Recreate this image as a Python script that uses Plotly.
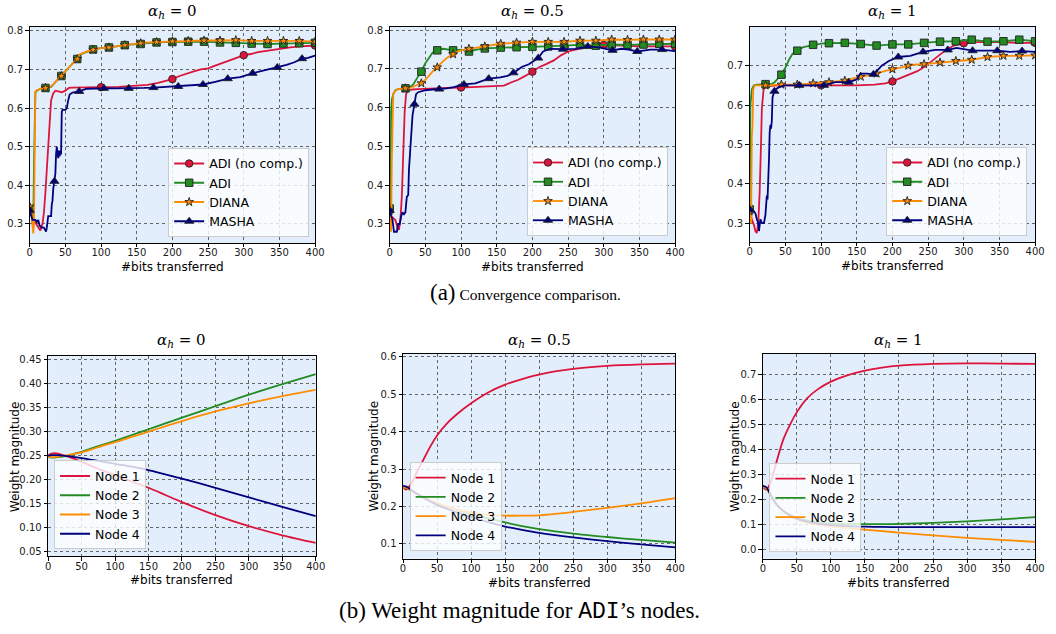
import plotly.graph_objects as go

W, H = 1056, 634

# ---------------- DATA: convergence comparison (top row) ----------------
titles = ["<i>α</i><sub><i>h</i></sub> = 0", "<i>α</i><sub><i>h</i></sub> = 0.5", "<i>α</i><sub><i>h</i></sub> = 1"]
method_names = ["ADI (no comp.)", "ADI", "DIANA", "MASHA"]

mk_adi = [0, 22.2, 44.4, 66.7, 88.9, 111.1, 133.3, 155.6, 177.8, 200, 222.2, 244.4, 266.7, 288.9, 311.1, 333.3, 355.6, 377.8, 400]
mk_nocomp = [0, 100, 200, 300, 400]
mk_masha = [0, 34.7, 69.4, 104.1, 138.8, 173.5, 208.2, 242.9, 277.6, 312.3, 347, 381.7]

# alpha_h = 0
a0_nocomp_x = [0, 3, 6, 9, 12, 15, 18, 20, 22, 24, 26, 28, 30, 33, 36, 40, 45, 50, 55, 60, 80, 100, 125, 150, 165, 180, 190, 200, 210, 220, 230, 240, 250, 260, 270, 280, 290, 300, 310, 320, 335, 350, 365, 380, 390, 400]
a0_nocomp_y = [0.335, 0.32, 0.31, 0.30, 0.29, 0.283, 0.30, 0.33, 0.38, 0.44, 0.50, 0.57, 0.62, 0.638, 0.645, 0.643, 0.641, 0.645, 0.652, 0.653, 0.653, 0.654, 0.655, 0.657, 0.66, 0.665, 0.669, 0.675, 0.683, 0.69, 0.695, 0.70, 0.703, 0.71, 0.716, 0.722, 0.73, 0.737, 0.74, 0.745, 0.749, 0.754, 0.757, 0.76, 0.761, 0.762]
a0_nocomp_my = [0.335, 0.654, 0.675, 0.737, 0.762]

a0_adi_x = [0, 2, 4, 5, 6, 7, 8, 10, 15, 22, 30, 35, 40, 44, 50, 55, 60, 66, 70, 75, 80, 89, 100, 111, 122, 133, 144, 155, 166, 178, 190, 200, 222, 244, 266, 289, 311, 333, 355, 378, 400]
a0_adi_y = [0.335, 0.33, 0.30, 0.29, 0.45, 0.60, 0.64, 0.645, 0.65, 0.652, 0.655, 0.665, 0.675, 0.683, 0.695, 0.705, 0.715, 0.727, 0.738, 0.742, 0.746, 0.752, 0.755, 0.757, 0.76, 0.763, 0.765, 0.766, 0.768, 0.77, 0.771, 0.771, 0.772, 0.772, 0.77, 0.769, 0.767, 0.766, 0.767, 0.768, 0.769]
a0_adi_my = [0.335, 0.652, 0.683, 0.727, 0.752, 0.757, 0.763, 0.766, 0.77, 0.771, 0.772, 0.772, 0.770, 0.769, 0.767, 0.766, 0.767, 0.768, 0.769]

a0_diana_x = [0, 2, 3, 4, 5, 6, 7, 7.5, 8, 10, 15, 22, 30, 35, 40, 44, 50, 55, 60, 66, 70, 75, 80, 89, 100, 111, 122, 133, 144, 155, 166, 178, 190, 200, 222, 244, 266, 289, 311, 333, 355, 378, 400]
a0_diana_y = [0.345, 0.345, 0.32, 0.28, 0.275, 0.30, 0.58, 0.60, 0.643, 0.646, 0.65, 0.652, 0.656, 0.665, 0.675, 0.683, 0.696, 0.705, 0.715, 0.727, 0.739, 0.743, 0.747, 0.751, 0.755, 0.757, 0.76, 0.763, 0.766, 0.768, 0.77, 0.771, 0.772, 0.773, 0.774, 0.775, 0.775, 0.776, 0.774, 0.774, 0.774, 0.774, 0.772]
a0_diana_my = [0.345, 0.652, 0.683, 0.727, 0.751, 0.757, 0.763, 0.768, 0.771, 0.773, 0.774, 0.775, 0.775, 0.776, 0.774, 0.774, 0.774, 0.774, 0.772]

a0_masha_x = [0, 2, 4, 8, 10, 12, 14, 17, 20, 22, 23, 24, 26, 28, 30, 31, 32, 33, 34.7, 36, 37, 38, 39, 40, 41, 42, 43, 44, 45, 46, 50, 52, 54, 56, 60, 65, 69.4, 80, 90, 104, 120, 139, 160, 174, 190, 208, 225, 243, 260, 278, 295, 312, 330, 347, 360, 370, 382, 390, 400]
a0_masha_y = [0.335, 0.32, 0.31, 0.31, 0.305, 0.31, 0.295, 0.29, 0.29, 0.283, 0.28, 0.29, 0.32, 0.32, 0.32, 0.35, 0.36, 0.39, 0.41, 0.43, 0.48, 0.50, 0.485, 0.47, 0.49, 0.475, 0.49, 0.48, 0.59, 0.595, 0.595, 0.60, 0.62, 0.635, 0.64, 0.641, 0.643, 0.65, 0.651, 0.651, 0.651, 0.651, 0.652, 0.653, 0.655, 0.656, 0.658, 0.661, 0.668, 0.676, 0.68, 0.69, 0.698, 0.705, 0.712, 0.718, 0.728, 0.73, 0.736]
a0_masha_my = [0.335, 0.41, 0.643, 0.651, 0.651, 0.653, 0.656, 0.661, 0.676, 0.69, 0.705, 0.728]

# alpha_h = 0.5
a05_nocomp_x = [0, 2, 5, 8, 11, 13, 15, 17, 19, 21, 23, 25, 28, 32, 40, 60, 80, 100, 130, 160, 170, 180, 190, 200, 210, 220, 230, 240, 250, 260, 270, 280, 300, 320, 350, 380, 400]
a05_nocomp_y = [0.34, 0.32, 0.315, 0.31, 0.29, 0.285, 0.31, 0.37, 0.48, 0.59, 0.635, 0.642, 0.645, 0.647, 0.648, 0.65, 0.651, 0.652, 0.655, 0.657, 0.665, 0.672, 0.682, 0.693, 0.705, 0.713, 0.722, 0.735, 0.745, 0.75, 0.754, 0.757, 0.762, 0.76, 0.758, 0.758, 0.758]
a05_nocomp_my = [0.34, 0.652, 0.693, 0.762, 0.758]

a05_adi_x = [0, 1, 2, 3, 5, 8, 12, 22, 28, 33, 38, 44, 50, 55, 60, 66, 75, 89, 100, 111, 122, 133, 155, 178, 200, 222, 244, 266, 289, 311, 333, 355, 378, 400]
a05_adi_y = [0.34, 0.30, 0.59, 0.62, 0.635, 0.645, 0.648, 0.65, 0.652, 0.66, 0.675, 0.693, 0.715, 0.73, 0.742, 0.748, 0.752, 0.748, 0.75, 0.745, 0.75, 0.753, 0.755, 0.756, 0.757, 0.758, 0.76, 0.762, 0.76, 0.763, 0.762, 0.763, 0.765, 0.765]
a05_adi_my = [0.34, 0.65, 0.693, 0.748, 0.748, 0.745, 0.753, 0.755, 0.756, 0.757, 0.758, 0.76, 0.762, 0.76, 0.763, 0.762, 0.763, 0.765, 0.765]

a05_diana_x = [0, 1, 2, 3, 4, 5, 8, 12, 22, 30, 35, 44, 50, 55, 60, 66, 70, 75, 80, 89, 95, 100, 111, 122, 133, 144, 155, 178, 200, 222, 244, 266, 289, 311, 333, 355, 378, 400]
a05_diana_y = [0.335, 0.30, 0.28, 0.46, 0.60, 0.635, 0.645, 0.648, 0.65, 0.652, 0.656, 0.663, 0.672, 0.683, 0.693, 0.704, 0.712, 0.72, 0.728, 0.738, 0.745, 0.748, 0.752, 0.755, 0.758, 0.762, 0.765, 0.768, 0.77, 0.77, 0.77, 0.773, 0.773, 0.776, 0.775, 0.776, 0.776, 0.776]
a05_diana_my = [0.335, 0.65, 0.663, 0.704, 0.738, 0.752, 0.758, 0.765, 0.768, 0.77, 0.77, 0.77, 0.773, 0.773, 0.776, 0.775, 0.776, 0.776, 0.776]

a05_masha_x = [0, 2, 4, 6, 8, 10, 12, 14, 16, 18, 20, 22, 24, 26, 27, 28, 30, 32, 34.7, 37, 40, 50, 60, 69.4, 80, 90, 104, 120, 139, 155, 165, 174, 185, 195, 208, 215, 225, 243, 260, 278, 295, 312, 325, 335, 347, 365, 382, 400]
a05_masha_y = [0.335, 0.32, 0.31, 0.28, 0.28, 0.28, 0.30, 0.30, 0.32, 0.33, 0.325, 0.33, 0.37, 0.375, 0.44, 0.47, 0.53, 0.58, 0.609, 0.635, 0.64, 0.645, 0.647, 0.648, 0.65, 0.653, 0.66, 0.663, 0.675, 0.678, 0.682, 0.69, 0.705, 0.712, 0.728, 0.745, 0.752, 0.751, 0.752, 0.758, 0.755, 0.748, 0.752, 0.75, 0.745, 0.75, 0.75, 0.746]
a05_masha_my = [0.335, 0.609, 0.648, 0.66, 0.675, 0.69, 0.728, 0.751, 0.758, 0.748, 0.745, 0.75]

# alpha_h = 1
a1_nocomp_x = [0, 3, 6, 8, 10, 12, 14, 15, 16, 17, 18, 19.5, 22, 25, 40, 60, 100, 150, 175, 190, 200, 210, 220, 235, 245, 255, 265, 275, 285, 300, 320, 350, 380, 400]
a1_nocomp_y = [0.335, 0.31, 0.295, 0.28, 0.275, 0.30, 0.38, 0.43, 0.51, 0.59, 0.62, 0.64, 0.645, 0.648, 0.65, 0.65, 0.65, 0.65, 0.652, 0.655, 0.66, 0.668, 0.675, 0.686, 0.697, 0.712, 0.725, 0.74, 0.75, 0.757, 0.76, 0.76, 0.758, 0.758]
a1_nocomp_my = [0.335, 0.65, 0.66, 0.757, 0.758]

a1_adi_x = [0, 0.5, 1, 3, 6, 10, 22, 30, 35, 40, 44, 50, 55, 60, 66, 75, 89, 100, 111, 133, 155, 178, 200, 222, 244, 266, 289, 311, 333, 355, 378, 400]
a1_adi_y = [0.335, 0.57, 0.60, 0.64, 0.65, 0.652, 0.653, 0.653, 0.658, 0.668, 0.677, 0.695, 0.715, 0.73, 0.738, 0.747, 0.753, 0.756, 0.757, 0.758, 0.755, 0.751, 0.754, 0.754, 0.758, 0.761, 0.762, 0.766, 0.761, 0.762, 0.766, 0.762]
a1_adi_my = [0.335, 0.653, 0.677, 0.738, 0.753, 0.757, 0.758, 0.755, 0.751, 0.754, 0.754, 0.758, 0.761, 0.762, 0.766, 0.761, 0.762, 0.766, 0.762]

a1_diana_x = [0, 2, 3, 4, 5, 7, 22, 44, 66, 89, 100, 111, 122, 133, 145, 155, 165, 178, 190, 200, 210, 222, 233, 244, 266, 289, 311, 333, 355, 378, 400]
a1_diana_y = [0.33, 0.30, 0.52, 0.55, 0.64, 0.65, 0.65, 0.652, 0.652, 0.655, 0.655, 0.658, 0.66, 0.662, 0.668, 0.672, 0.675, 0.68, 0.687, 0.691, 0.695, 0.70, 0.703, 0.704, 0.708, 0.712, 0.715, 0.722, 0.725, 0.725, 0.726]
a1_diana_my = [0.33, 0.65, 0.652, 0.652, 0.655, 0.658, 0.662, 0.672, 0.68, 0.691, 0.70, 0.704, 0.708, 0.712, 0.715, 0.722, 0.725, 0.725, 0.726]

a1_masha_x = [0, 3, 6, 8, 10, 12, 13, 14, 15, 17, 20, 22, 23, 24, 25, 26, 27, 28, 29, 30, 31, 32, 34.7, 37, 40, 50, 69.4, 90, 104, 120, 139, 150, 155, 165, 174, 185, 195, 208, 225, 243, 260, 278, 290, 312, 330, 347, 365, 382, 400]
a1_masha_y = [0.335, 0.33, 0.33, 0.325, 0.31, 0.30, 0.28, 0.30, 0.31, 0.30, 0.30, 0.32, 0.36, 0.37, 0.36, 0.40, 0.46, 0.53, 0.55, 0.54, 0.56, 0.62, 0.635, 0.64, 0.645, 0.65, 0.65, 0.65, 0.65, 0.658, 0.658, 0.665, 0.68, 0.68, 0.678, 0.70, 0.712, 0.722, 0.725, 0.735, 0.74, 0.74, 0.745, 0.738, 0.738, 0.738, 0.735, 0.737, 0.735]
a1_masha_my = [0.335, 0.635, 0.65, 0.65, 0.658, 0.678, 0.722, 0.735, 0.74, 0.738, 0.738, 0.737]

# ---------------- DATA: weight magnitude (bottom row) ----------------
node_names = ["Node 1", "Node 2", "Node 3", "Node 4"]
bits_w = [0, 5, 10, 15, 20, 30, 40, 50, 65, 80, 100, 125, 150, 175, 200, 250, 300, 350, 400]

b0_node1 = [0.25, 0.254, 0.255, 0.254, 0.252, 0.248, 0.243, 0.237, 0.228, 0.22, 0.209, 0.196, 0.183, 0.168, 0.153, 0.126, 0.103, 0.084, 0.068]
b0_node2 = [0.247, 0.246, 0.246, 0.247, 0.248, 0.25, 0.254, 0.258, 0.265, 0.272, 0.281, 0.293, 0.305, 0.317, 0.329, 0.353, 0.377, 0.399, 0.42]
b0_node3 = [0.247, 0.247, 0.247, 0.248, 0.249, 0.251, 0.254, 0.257, 0.263, 0.27, 0.278, 0.289, 0.30, 0.311, 0.322, 0.342, 0.359, 0.374, 0.387]
b0_node4 = [0.25, 0.251, 0.251, 0.251, 0.25, 0.249, 0.247, 0.245, 0.241, 0.238, 0.233, 0.227, 0.22, 0.211, 0.202, 0.183, 0.163, 0.143, 0.124]

b05_node1 = [0.25, 0.245, 0.255, 0.27, 0.29, 0.325, 0.36, 0.39, 0.423, 0.448, 0.476, 0.505, 0.526, 0.541, 0.553, 0.568, 0.576, 0.58, 0.582]
b05_node2 = [0.25, 0.25, 0.245, 0.24, 0.235, 0.225, 0.216, 0.208, 0.198, 0.19, 0.18, 0.168, 0.157, 0.147, 0.139, 0.127, 0.118, 0.11, 0.103]
b05_node3 = [0.25, 0.25, 0.245, 0.24, 0.235, 0.226, 0.217, 0.209, 0.199, 0.191, 0.183, 0.177, 0.175, 0.175, 0.176, 0.185, 0.196, 0.208, 0.222]
b05_node4 = [0.255, 0.253, 0.247, 0.24, 0.234, 0.223, 0.213, 0.204, 0.193, 0.183, 0.172, 0.158, 0.146, 0.137, 0.129, 0.117, 0.107, 0.098, 0.09]

b1_node1 = [0.25, 0.24, 0.26, 0.30, 0.35, 0.44, 0.50, 0.55, 0.605, 0.64, 0.672, 0.698, 0.716, 0.728, 0.736, 0.743, 0.745, 0.744, 0.743]
b1_node2 = [0.25, 0.245, 0.225, 0.20, 0.18, 0.155, 0.138, 0.127, 0.117, 0.11, 0.105, 0.103, 0.102, 0.102, 0.103, 0.107, 0.113, 0.121, 0.13]
b1_node3 = [0.25, 0.245, 0.225, 0.20, 0.18, 0.152, 0.133, 0.12, 0.108, 0.10, 0.093, 0.086, 0.08, 0.074, 0.068, 0.057, 0.047, 0.039, 0.031]
b1_node4 = [0.255, 0.25, 0.228, 0.203, 0.182, 0.155, 0.137, 0.124, 0.112, 0.104, 0.098, 0.094, 0.092, 0.091, 0.09, 0.09, 0.09, 0.09, 0.09]

x_ticks = [0, 50, 100, 150, 200, 250, 300, 350, 400]

# ---------------- STYLE ----------------
colors = ["#DC143C", "#228B22", "#FF8C00", "#00007F"]
symbols = ["circle", "square", "star", "triangle-up"]
msizes = [7.5, 7.5, 6.5, 8]
FONT = "DejaVu Sans"
SERIF = "Liberation Serif"

def xd(a, b):
    return [a / W, b / W]

def yd(top, bottom):
    return [1 - bottom / H, 1 - top / H]

panels = [
    dict(x=(27, 316), y=(25, 242), yr=[0.2507, 0.8103], dt=0.1, fmt=".1f"),
    dict(x=(391.5, 680.5), y=(25, 242), yr=[0.2513, 0.8085], dt=0.1, fmt=".1f"),
    dict(x=(756, 1045), y=(25, 241), yr=[0.2525, 0.7985], dt=0.1, fmt=".1f"),
    dict(x=(45.7, 316.7), y=(356, 557), yr=[0.040, 0.457], dt=0.05, fmt=".2f"),
    dict(x=(405, 680.7), y=(353.3, 559.3), yr=[0.06, 0.609], dt=0.1, fmt=".1f"),
    dict(x=(769.3, 1045), y=(353.3, 559.3), yr=[-0.036, 0.784], dt=0.1, fmt=".1f"),
]

fig = go.Figure()
layout = dict(
    width=W, height=H, margin=dict(l=0, r=0, t=0, b=0),
    paper_bgcolor="white", plot_bgcolor="#E2EEFB",
    font=dict(family=FONT, size=10, color="#1a1a1a"),
    annotations=[],
)

for i, p in enumerate(panels):
    n = "" if i == 0 else str(i + 1)
    layout["xaxis" + n] = dict(
        domain=xd(*p["x"]), range=[0, 400], anchor="y" + n,
        tickvals=x_ticks, ticks="outside", ticklen=3.5, tickcolor="black",
        ticklabelstandoff=-3,
        showline=True, mirror=True, linecolor="black", linewidth=1,
        showgrid=True, gridcolor="#666666", griddash="dot", gridwidth=0.8,
        zeroline=False, tickfont=dict(size=10, family=FONT),
    )
    layout["yaxis" + n] = dict(
        domain=yd(*p["y"]), range=p["yr"], anchor="x" + n,
        dtick=p["dt"], tick0=0, tickformat=p["fmt"], ticks="outside", ticklen=3.5, tickcolor="black",
        showline=True, mirror=True, linecolor="black", linewidth=1,
        showgrid=True, gridcolor="#666666", griddash="dot", gridwidth=0.8,
        zeroline=False, tickfont=dict(size=10, family=FONT),
    )
    cx = (p["x"][0] + p["x"][1]) / 2 / W
    ty = 10 if i < 3 else 340
    layout["annotations"].append(dict(
        x=cx, y=1 - ty / H, xref="paper", yref="paper", showarrow=False,
        text=titles[i % 3], font=dict(family="DejaVu Serif", size=15, color="black"),
        xanchor="center", yanchor="middle"))
    xy = p["y"][1] + 24
    layout["annotations"].append(dict(
        x=cx, y=1 - xy / H, xref="paper", yref="paper", showarrow=False,
        text="#bits transferred", font=dict(family=FONT, size=12, color="black"),
        xanchor="center", yanchor="middle"))

for px, p in zip([12, 376, 741], panels[3:]):
    cy = (p["y"][0] + p["y"][1]) / 2
    layout["annotations"].append(dict(
        x=px / W, y=1 - cy / H, xref="paper", yref="paper", showarrow=False, textangle=-90,
        text="Weight magnitude", font=dict(family=FONT, size=12, color="black"),
        xanchor="center", yanchor="middle"))

layout["annotations"].append(dict(
    x=529 / W, y=1 - 292 / H, xref="paper", yref="paper", showarrow=False,
    text="<span style='font-size:23px'>(a)</span> Convergence comparison.",
    font=dict(family=SERIF, size=15.5, color="black"), xanchor="center", yanchor="middle"))
layout["annotations"].append(dict(
    x=523 / W, y=1 - 612 / H, xref="paper", yref="paper", showarrow=False,
    text="(b) Weight magnitude for <span style='font-family:Liberation Mono'>ADI</span>’s nodes.",
    font=dict(family=SERIF, size=23, color="black"), xanchor="center", yanchor="middle"))

leg_common = dict(bgcolor="rgba(255,255,255,0.8)", bordercolor="#cccccc", borderwidth=1,
                  font=dict(family=FONT, size=12.5, color="black"), tracegroupgap=0,
                  itemwidth=30, xref="paper", yref="paper")
leg_pos = [
    (310, 236, "right"), (673.3, 235, "right"), (1037, 235, "right"),
    (51.7, 550, "left"), (411.7, 551.7, "left"), (776, 552.7, "left"),
]
for i, (lx, ly, anc) in enumerate(leg_pos):
    key = "legend" if i == 0 else "legend" + str(i + 1)
    layout[key] = dict(leg_common, x=lx / W, y=1 - ly / H, xanchor=anc, yanchor="bottom")

top_data = [
    [(a0_nocomp_x, a0_nocomp_y, mk_nocomp, a0_nocomp_my), (a0_adi_x, a0_adi_y, mk_adi, a0_adi_my),
     (a0_diana_x, a0_diana_y, mk_adi, a0_diana_my), (a0_masha_x, a0_masha_y, mk_masha, a0_masha_my)],
    [(a05_nocomp_x, a05_nocomp_y, mk_nocomp, a05_nocomp_my), (a05_adi_x, a05_adi_y, mk_adi, a05_adi_my),
     (a05_diana_x, a05_diana_y, mk_adi, a05_diana_my), (a05_masha_x, a05_masha_y, mk_masha, a05_masha_my)],
    [(a1_nocomp_x, a1_nocomp_y, mk_nocomp, a1_nocomp_my), (a1_adi_x, a1_adi_y, mk_adi, a1_adi_my),
     (a1_diana_x, a1_diana_y, mk_adi, a1_diana_my), (a1_masha_x, a1_masha_y, mk_masha, a1_masha_my)],
]
for pi, series in enumerate(top_data):
    n = "" if pi == 0 else str(pi + 1)
    leg = "legend" if pi == 0 else "legend" + str(pi + 1)
    for si, (lx, ly, mx, my) in enumerate(series):
        c = colors[si]
        fig.add_trace(go.Scatter(x=lx, y=ly, mode="lines", line=dict(color=c, width=1.8),
                                 xaxis="x" + n, yaxis="y" + n, showlegend=False, hoverinfo="skip"))
        fig.add_trace(go.Scatter(x=mx, y=my, mode="markers",
                                 marker=dict(symbol=symbols[si], size=msizes[si], color=c,
                                             line=dict(color="#222222", width=0.9)),
                                 xaxis="x" + n, yaxis="y" + n, showlegend=False, hoverinfo="skip"))
    for si in range(4):
        fig.add_trace(go.Scatter(x=[None], y=[None], mode="lines+markers", name=method_names[si],
                                 line=dict(color=colors[si], width=1.8),
                                 marker=dict(symbol=symbols[si], size=msizes[si], color=colors[si],
                                             line=dict(color="#222222", width=0.9)),
                                 xaxis="x" + n, yaxis="y" + n, legend=leg))

bottom_data = [
    [b0_node1, b0_node2, b0_node3, b0_node4],
    [b05_node1, b05_node2, b05_node3, b05_node4],
    [b1_node1, b1_node2, b1_node3, b1_node4],
]
for pi, series in enumerate(bottom_data):
    n = str(pi + 4)
    leg = "legend" + n
    for si, ys in enumerate(series):
        fig.add_trace(go.Scatter(x=bits_w, y=ys, mode="lines", name=node_names[si],
                                 line=dict(color=colors[si], width=1.8, shape="spline", smoothing=0.8),
                                 xaxis="x" + n, yaxis="y" + n, legend=leg))

fig.update_layout(**layout)
fig.write_html("out.html", config={"displayModeBar": False},
               post_script="document.body.style.margin='0px';")
